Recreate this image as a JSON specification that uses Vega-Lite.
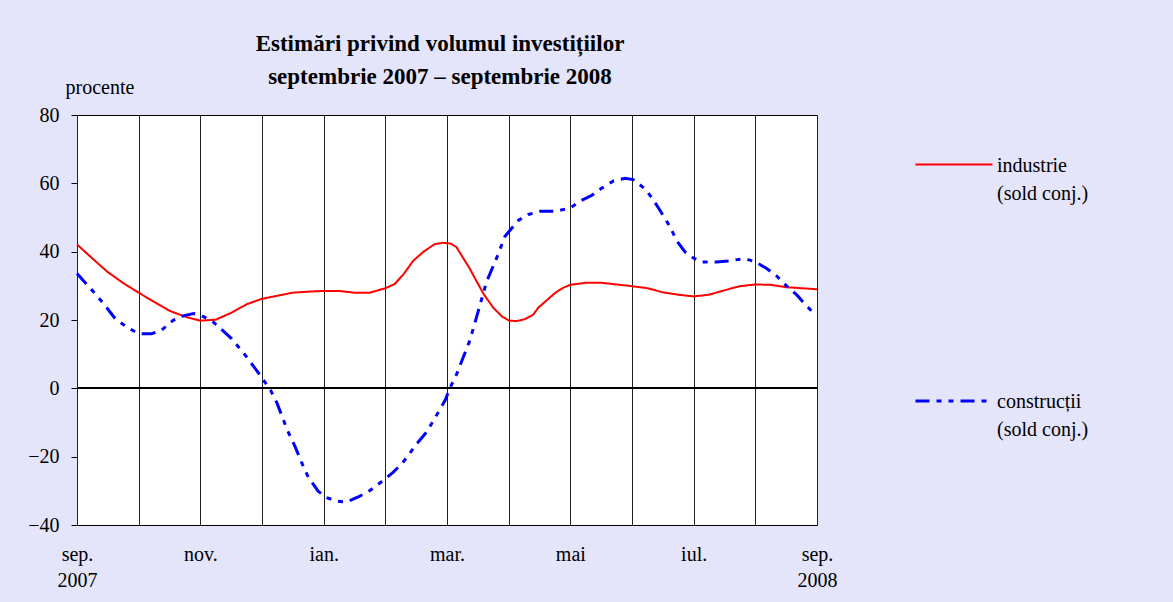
{
  "$schema": "https://vega.github.io/schema/vega-lite/v6.json",
  "width": 740,
  "height": 410,
  "autosize": {"type": "none"},
  "padding": {"left": 77, "top": 115, "right": 356, "bottom": 77},
  "background": "#E4E4FA",
  "config": {
    "font": "Liberation Serif",
    "axis": {"labelFont": "Liberation Serif", "titleFont": "Liberation Serif"},
    "legend": {"labelFont": "Liberation Serif", "titleFont": "Liberation Serif"},
    "title": {"font": "Liberation Serif"},
    "view": {"stroke": "black", "strokeWidth": 1, "fill": "white"}
  },
  "title": {
    "text": ["Estimări privind volumul investițiilor", "septembrie 2007 – septembrie 2008"],
    "font": "Liberation Serif",
    "fontSize": 23,
    "fontWeight": "bold",
    "lineHeight": 33,
    "anchor": "middle",
    "offset": 28,
    "dx": -7,
    "dy": 40,
    "color": "black"
  },
  "data": {
    "values": [
      {"s": "industrie", "m": 0, "v": 42.1},
      {"s": "industrie", "m": 0.25, "v": 38.0},
      {"s": "industrie", "m": 0.5, "v": 34.0},
      {"s": "industrie", "m": 0.75, "v": 30.8},
      {"s": "industrie", "m": 1.0, "v": 28.0},
      {"s": "industrie", "m": 1.25, "v": 25.3},
      {"s": "industrie", "m": 1.5, "v": 22.7},
      {"s": "industrie", "m": 1.75, "v": 21.0},
      {"s": "industrie", "m": 2.0, "v": 19.8},
      {"s": "industrie", "m": 2.25, "v": 20.1},
      {"s": "industrie", "m": 2.5, "v": 22.1},
      {"s": "industrie", "m": 2.75, "v": 24.6},
      {"s": "industrie", "m": 3.0, "v": 26.2},
      {"s": "industrie", "m": 3.25, "v": 27.1},
      {"s": "industrie", "m": 3.5, "v": 28.0},
      {"s": "industrie", "m": 3.75, "v": 28.3},
      {"s": "industrie", "m": 4.0, "v": 28.5},
      {"s": "industrie", "m": 4.25, "v": 28.5},
      {"s": "industrie", "m": 4.5, "v": 28.0},
      {"s": "industrie", "m": 4.75, "v": 28.0},
      {"s": "industrie", "m": 5.0, "v": 29.3},
      {"s": "industrie", "m": 5.15, "v": 30.5},
      {"s": "industrie", "m": 5.3, "v": 33.5},
      {"s": "industrie", "m": 5.45, "v": 37.3},
      {"s": "industrie", "m": 5.62, "v": 40.0},
      {"s": "industrie", "m": 5.8, "v": 42.2},
      {"s": "industrie", "m": 5.93, "v": 42.6},
      {"s": "industrie", "m": 6.05, "v": 42.4},
      {"s": "industrie", "m": 6.15, "v": 41.4},
      {"s": "industrie", "m": 6.37, "v": 35.0},
      {"s": "industrie", "m": 6.59, "v": 27.7},
      {"s": "industrie", "m": 6.75, "v": 23.6},
      {"s": "industrie", "m": 6.9, "v": 20.9},
      {"s": "industrie", "m": 7.01, "v": 19.8},
      {"s": "industrie", "m": 7.13, "v": 19.7},
      {"s": "industrie", "m": 7.26, "v": 20.2},
      {"s": "industrie", "m": 7.4, "v": 21.6},
      {"s": "industrie", "m": 7.48, "v": 23.6},
      {"s": "industrie", "m": 7.62, "v": 25.8},
      {"s": "industrie", "m": 7.75, "v": 27.9},
      {"s": "industrie", "m": 7.88, "v": 29.4},
      {"s": "industrie", "m": 8.0, "v": 30.3},
      {"s": "industrie", "m": 8.25, "v": 30.9},
      {"s": "industrie", "m": 8.5, "v": 30.9},
      {"s": "industrie", "m": 8.75, "v": 30.4},
      {"s": "industrie", "m": 9.0, "v": 29.9},
      {"s": "industrie", "m": 9.25, "v": 29.3},
      {"s": "industrie", "m": 9.5, "v": 28.1},
      {"s": "industrie", "m": 9.75, "v": 27.4},
      {"s": "industrie", "m": 10.0, "v": 26.9},
      {"s": "industrie", "m": 10.25, "v": 27.4},
      {"s": "industrie", "m": 10.5, "v": 28.7},
      {"s": "industrie", "m": 10.75, "v": 29.9},
      {"s": "industrie", "m": 11.0, "v": 30.4},
      {"s": "industrie", "m": 11.25, "v": 30.3},
      {"s": "industrie", "m": 11.5, "v": 29.6},
      {"s": "industrie", "m": 11.75, "v": 29.3},
      {"s": "industrie", "m": 12.0, "v": 29.0},
      {"s": "construcții", "m": 0, "v": 33.6},
      {"s": "construcții", "m": 0.27, "v": 28.2},
      {"s": "construcții", "m": 0.43, "v": 24.8},
      {"s": "construcții", "m": 0.62, "v": 20.4},
      {"s": "construcții", "m": 0.81, "v": 17.9},
      {"s": "construcții", "m": 1.0, "v": 16.0},
      {"s": "construcții", "m": 1.21, "v": 16.0},
      {"s": "construcții", "m": 1.37, "v": 17.0},
      {"s": "construcții", "m": 1.56, "v": 19.9},
      {"s": "construcții", "m": 1.72, "v": 21.2},
      {"s": "construcții", "m": 1.89, "v": 21.9},
      {"s": "construcții", "m": 2.05, "v": 21.0},
      {"s": "construcții", "m": 2.21, "v": 19.4},
      {"s": "construcții", "m": 2.51, "v": 14.5},
      {"s": "construcții", "m": 2.75, "v": 9.2},
      {"s": "construcții", "m": 2.98, "v": 3.6},
      {"s": "construcții", "m": 3.14, "v": -0.6},
      {"s": "construcții", "m": 3.24, "v": -4.2},
      {"s": "construcții", "m": 3.32, "v": -7.9},
      {"s": "construcții", "m": 3.4, "v": -11.8},
      {"s": "construcții", "m": 3.54, "v": -17.2},
      {"s": "construcții", "m": 3.64, "v": -21.6},
      {"s": "construcții", "m": 3.75, "v": -26.0},
      {"s": "construcții", "m": 3.91, "v": -30.1},
      {"s": "construcții", "m": 4.05, "v": -32.0},
      {"s": "construcții", "m": 4.21, "v": -33.0},
      {"s": "construcții", "m": 4.37, "v": -33.3},
      {"s": "construcții", "m": 4.56, "v": -31.8},
      {"s": "construcții", "m": 4.75, "v": -29.9},
      {"s": "construcții", "m": 4.97, "v": -26.9},
      {"s": "construcții", "m": 5.13, "v": -24.5},
      {"s": "construcții", "m": 5.29, "v": -21.6},
      {"s": "construcții", "m": 5.51, "v": -16.2},
      {"s": "construcții", "m": 5.67, "v": -12.8},
      {"s": "construcții", "m": 5.83, "v": -7.9},
      {"s": "construcții", "m": 5.97, "v": -3.5},
      {"s": "construcții", "m": 6.05, "v": 0.2},
      {"s": "construcții", "m": 6.16, "v": 4.3},
      {"s": "construcții", "m": 6.37, "v": 14.0},
      {"s": "construcții", "m": 6.51, "v": 22.8},
      {"s": "construcții", "m": 6.64, "v": 31.1},
      {"s": "construcții", "m": 6.81, "v": 38.4},
      {"s": "construcții", "m": 6.94, "v": 44.5},
      {"s": "construcții", "m": 7.16, "v": 49.2},
      {"s": "construcții", "m": 7.32, "v": 50.9},
      {"s": "construcții", "m": 7.51, "v": 51.8},
      {"s": "construcții", "m": 7.76, "v": 51.8},
      {"s": "construcții", "m": 8.0, "v": 52.8},
      {"s": "construcții", "m": 8.16, "v": 54.8},
      {"s": "construcții", "m": 8.35, "v": 56.5},
      {"s": "construcții", "m": 8.51, "v": 58.6},
      {"s": "construcții", "m": 8.7, "v": 60.7},
      {"s": "construcții", "m": 8.89, "v": 61.5},
      {"s": "construcții", "m": 9.02, "v": 61.1},
      {"s": "construcții", "m": 9.21, "v": 58.4},
      {"s": "construcții", "m": 9.32, "v": 55.8},
      {"s": "construcții", "m": 9.44, "v": 52.5},
      {"s": "construcții", "m": 9.62, "v": 47.2},
      {"s": "construcții", "m": 9.72, "v": 43.3},
      {"s": "construcții", "m": 9.86, "v": 39.9},
      {"s": "construcții", "m": 9.99, "v": 38.2},
      {"s": "construcții", "m": 10.13, "v": 37.0},
      {"s": "construcții", "m": 10.37, "v": 37.0},
      {"s": "construcții", "m": 10.56, "v": 37.3},
      {"s": "construcții", "m": 10.76, "v": 37.8},
      {"s": "construcții", "m": 10.86, "v": 37.8},
      {"s": "construcții", "m": 11.0, "v": 37.0},
      {"s": "construcții", "m": 11.19, "v": 35.0},
      {"s": "construcții", "m": 11.35, "v": 32.8},
      {"s": "construcții", "m": 11.51, "v": 29.9},
      {"s": "construcții", "m": 11.68, "v": 27.2},
      {"s": "construcții", "m": 11.78, "v": 25.1},
      {"s": "construcții", "m": 11.92, "v": 22.5}
    ]
  },
  "layer": [
    {
      "mark": {"type": "rule", "color": "black", "strokeWidth": 1},
      "encoding": {"y": {"datum": 0, "type": "quantitative"}}
    },
    {
      "mark": {"type": "line"},
      "encoding": {
        "x": {
          "field": "m",
          "type": "quantitative",
          "scale": {"domain": [0, 12], "nice": false, "zero": false},
          "axis": {
            "values": [0, 1, 2, 3, 4, 5, 6, 7, 8, 9, 10, 11, 12],
            "labelExpr": "datum.value == 0 ? ['sep.', '2007'] : datum.value == 12 ? ['sep.', '2008'] : datum.value == 2 ? 'nov.' : datum.value == 4 ? 'ian.' : datum.value == 6 ? 'mar.' : datum.value == 8 ? 'mai' : datum.value == 10 ? 'iul.' : ''",
            "grid": true,
            "gridColor": "#222222",
            "gridOpacity": 1,
            "ticks": false,
            "domain": false,
            "labelFont": "Liberation Serif",
            "labelFontSize": 20,
            "labelPadding": 19,
            "labelFlush": false,
            "labelOverlap": false,
            "labelLineHeight": 26,
            "labelBaseline": "top",
            "labelColor": "black",
            "title": null
          }
        },
        "y": {
          "field": "v",
          "type": "quantitative",
          "scale": {"domain": [-40, 80], "nice": false},
          "axis": {
            "values": [-40, -35, -30, -25, -20, -15, -10, -5, 0, 5, 10, 15, 20, 25, 30, 35, 40, 45, 50, 55, 60, 65, 70, 75, 80],
            "labelExpr": "datum.value % 20 == 0 ? datum.label : ''",
            "grid": false,
            "tickSize": 6,
            "tickColor": "black",
            "domain": false,
            "labelFont": "Liberation Serif",
            "labelFontSize": 20,
            "labelPadding": 12,
            "labelColor": "black",
            "title": "procente",
            "titleFont": "Liberation Serif",
            "titleAngle": 0,
            "titleAlign": "left",
            "titleBaseline": "alphabetic",
            "titleX": -12,
            "titleY": -22,
            "titleFontSize": 20,
            "titleFontWeight": "normal",
            "titleColor": "black"
          }
        },
        "color": {
          "field": "s",
          "type": "nominal",
          "scale": {"domain": ["industrie", "construcții"], "range": ["#FF0000", "#0000FF"]},
          "legend": {
            "orient": "none",
            "legendX": 837,
            "legendY": 10,
            "title": null,
            "symbolType": "stroke",
            "symbolSize": 5929,
            "labelFont": "Liberation Serif",
            "labelFontSize": 20,
            "labelExpr": "[datum.label, '(sold conj.)']",
            "labelOffset": 3,
            "labelLimit": 300,
            "labelColor": "black",
            "rowPadding": 157,
            "padding": 0,
            "labelBaseline": "top",
            "encode": {
              "labels": {"update": {"dy": {"value": -9}, "lineHeight": {"value": 28}}}
            }
          }
        },
        "strokeDash": {
          "field": "s",
          "type": "nominal",
          "scale": {"domain": ["industrie", "construcții"], "range": [[1, 0], [14, 7, 5, 7, 5, 7]]}
        },
        "strokeWidth": {
          "field": "s",
          "type": "nominal",
          "scale": {"domain": ["industrie", "construcții"], "range": [2, 3]}
        }
      }
    }
  ]
}
